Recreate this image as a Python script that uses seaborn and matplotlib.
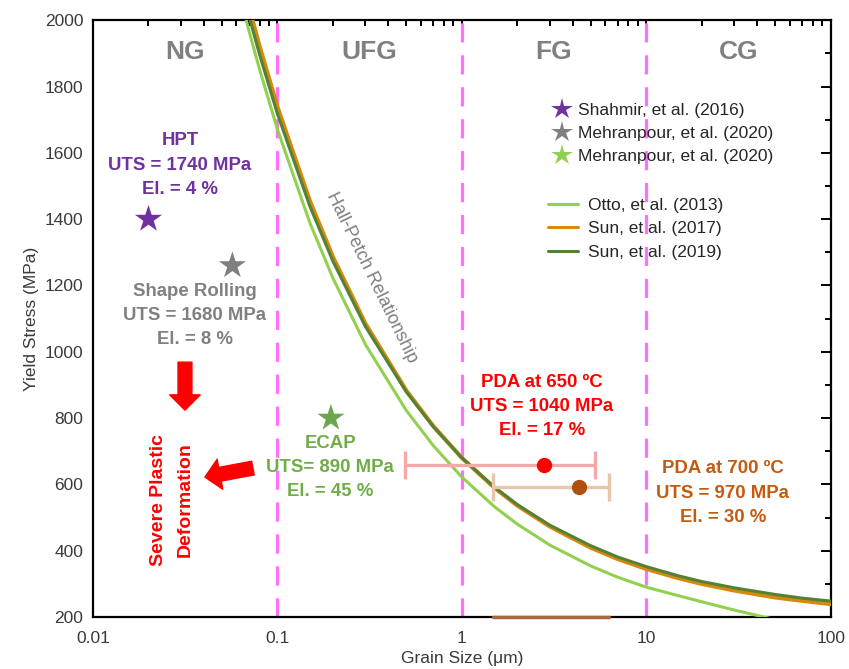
import matplotlib
matplotlib.use('Agg')  # no display
import matplotlib.pyplot as plt
import matplotlib.ticker as mticker
from matplotlib.lines import Line2D
import seaborn as sns
import pandas as pd

# Hall-Petch curves, values
hp_size = [0.065, 0.07, 0.08, 0.1, 0.15, 0.2, 0.3, 0.5, 0.7, 1, 1.5, 2, 3,
           5, 7, 10, 15, 20, 30, 50, 70, 100]
otto_2013 = [2039, 1970, 1852, 1671, 1389, 1222, 1022, 823, 717, 622, 533,
             480, 417, 354, 320, 290, 264, 246, 221, 192, 178, 165]
sun_2017 = [2112, 2042, 1922, 1739, 1455, 1286, 1085, 883, 776, 680, 590,
            536, 473, 409, 375, 345, 317, 300, 280, 259, 249, 239]
sun_2019 = [2083, 2014, 1897, 1718, 1439, 1273, 1076, 879, 774, 680, 592,
            539, 477, 415, 381, 352, 324, 307, 288, 268, 257, 248]
curve_labels = ['Otto, et al. (2013)', 'Sun, et al. (2017)', 'Sun, et al. (2019)']
curve_colors = ['#92d050', '#d68a0c', '#548235']

# literature points (stars)
star_labels = ['Shahmir, et al. (2016)', 'Mehranpour, et al. (2020)',
               'Mehranpour, et al. (2020)']
star_size = [0.02, 0.057, 0.195]
star_stress = [1400, 1260, 800]
star_colors = ['#7030a0', '#7f7f7f', '#6aa84f']
star_legend_colors = ['#7030a0', '#7f7f7f', '#92d050']

# PDA samples with grain size range
pda_size = [2.8, 4.3]
pda_stress = [660, 592]
pda_lo = [0.49, 1.47]
pda_hi = [5.3, 6.3]
pda_colors = ['#ff0000', '#b0500f']
pda_bar_colors = ['#f7a8a8', '#e9c6ab']

zone_labels = ['NG', 'UFG', 'FG', 'CG']
zone_bounds = [0.1, 1, 10]

sns.set_theme(style="white")
plt.rcParams['font.family'] = ['Liberation Sans', 'DejaVu Sans']
plt.rcParams['mathtext.default'] = 'regular'

fig = plt.figure(figsize=(8.49, 6.69), dpi=100)
ax = fig.add_axes([0.1095, 0.0777, 0.869, 0.892])

for b in zone_bounds:
    ax.axvline(b, color='#ff70ff', lw=2.3, dashes=(6, 4), zorder=1)

curves = pd.DataFrame({
    'd': hp_size * 3,
    'sigma': otto_2013 + sun_2017 + sun_2019,
    'src': [curve_labels[0]] * len(hp_size) + [curve_labels[1]] * len(hp_size)
           + [curve_labels[2]] * len(hp_size),
})
sns.lineplot(data=curves, x='d', y='sigma', hue='src',
             palette=dict(zip(curve_labels, curve_colors)), linewidth=2.2,
             legend=False, ax=ax, zorder=3)
# orange edge peeking out under the 2019 curve
ax.lines[-2].set_linewidth(3.0)

stars = pd.DataFrame({'d': star_size, 's': star_stress, 'c': star_colors})
sns.scatterplot(data=stars, x='d', y='s', hue='c', palette={c: c for c in star_colors},
                marker='*', s=420, linewidth=0, legend=False, ax=ax, zorder=5)

for i in range(len(pda_size)):
    ax.errorbar(pda_size[i], pda_stress[i],
                xerr=[[pda_size[i] - pda_lo[i]], [pda_hi[i] - pda_size[i]]],
                fmt='none', ecolor=pda_bar_colors[i], elinewidth=2.4,
                capsize=10, capthick=2.4, zorder=4)
    ax.plot(pda_size[i], pda_stress[i], 'o', color=pda_colors[i], ms=10, zorder=5)
ax.plot([pda_lo[1], pda_hi[1]], [200, 200], color='#a8683a', lw=2.5,
        zorder=6, clip_on=False)

ax.set_xscale('log')
ax.set_xlim(0.01, 100)
ax.set_ylim(200, 2000)
ax.xaxis.set_major_locator(mticker.FixedLocator([0.01, 0.1, 1, 10, 100]))
ax.xaxis.set_major_formatter(mticker.FixedFormatter(['0.01', '0.1', '1', '10', '100']))
ax.xaxis.set_minor_locator(mticker.LogLocator(base=10, subs=range(2, 10)))
ax.xaxis.set_minor_formatter(mticker.NullFormatter())
ax.yaxis.set_major_locator(mticker.MultipleLocator(200))
ax.yaxis.set_minor_locator(mticker.MultipleLocator(100))
ax.tick_params(which='both', direction='in', top=True, right=True,
               color='black', width=1.4, labelsize=12.5, labelcolor='#3a3a3a')
ax.tick_params(which='major', length=7)
ax.tick_params(axis='x', which='major', pad=10)
ax.tick_params(axis='y', which='major', pad=7)
ax.tick_params(which='minor', length=4)
for sp in ax.spines.values():
    sp.set_color('black')
    sp.set_linewidth(1.6)
ax.set_xlabel('Grain Size (μm)', fontsize=12.5, color='#3a3a3a', labelpad=4)
ax.set_ylabel('Yield Stress (MPa)', fontsize=12.5, color='#3a3a3a', labelpad=4)

for lab, x in zip(zone_labels, [0.0316, 0.316, 3.16, 31.6]):
    ax.text(x, 1905, lab, fontsize=19, fontweight='bold', color='#808080',
            ha='center', va='center')

note = dict(fontsize=13.4, fontweight='bold', ha='center', va='center',
            multialignment='center', linespacing=1.55)
ax.text(0.0296, 1563, 'HPT\nUTS = 1740 MPa\nEl. = 4 %', color='#7030a0', **note)
ax.text(0.0357, 1110, 'Shape Rolling\nUTS = 1680 MPa\nEl. = 8 %', color='#808080', **note)
ax.text(0.193, 652, 'ECAP\nUTS= 890 MPa\nEl. = 45 %', color='#70ad47', **note)
ax.text(2.72, 836, 'PDA at 650 ºC\nUTS = 1040 MPa\nEl. = 17 %', color='#ff0000', **note)
ax.text(26, 574, 'PDA at 700 ºC\nUTS = 970 MPa\nEl. = 30 %', color='#c55a11', **note)
ax.text(0.0268, 553, 'Severe Plastic\nDeformation', color='#ff0000', rotation=90,
        **{**note, 'linespacing': 1.7, 'fontsize': 14})
ax.text(0.325, 1225, 'Hall-Petch Relationship', color='#7f7f7f', fontsize=13,
        rotation=-64, ha='center', va='center', rotation_mode='anchor')

arrow = dict(arrowstyle='simple,head_width=2.2,head_length=1.1,tail_width=1.0',
             mutation_scale=10, color='#ff0000', shrinkA=0, shrinkB=0)
ax.annotate('', xy=(0.1247, 0.3467), xytext=(0.1247, 0.4271),
            xycoords='axes fraction', arrowprops=arrow)
ax.annotate('', xy=(0.1518, 0.2345), xytext=(0.2168, 0.2496),
            xycoords='axes fraction', arrowprops=arrow)

star_handles = [Line2D([], [], ls='none', marker='*', ms=16, mew=0, color=c)
                for c in star_legend_colors]
leg1 = ax.legend(star_handles, star_labels, loc='upper left',
                 bbox_to_anchor=(0.622, 0.862), frameon=False, fontsize=12.5,
                 handlelength=1.2, handletextpad=0.3, labelspacing=0.45,
                 borderaxespad=0, borderpad=0)
ax.add_artist(leg1)
line_handles = [Line2D([], [], color=c, lw=2.2) for c in curve_colors]
ax.legend(line_handles, curve_labels, loc='upper left',
          bbox_to_anchor=(0.617, 0.703), frameon=False, fontsize=12.5,
          handlelength=1.7, handletextpad=0.6, labelspacing=0.48,
          borderaxespad=0, borderpad=0)

fig.savefig('out.png', dpi=100)
plt.close(fig)
